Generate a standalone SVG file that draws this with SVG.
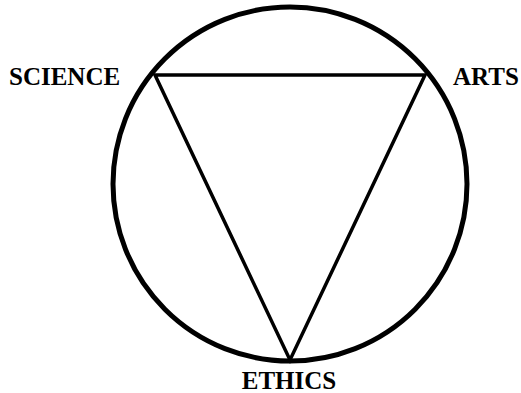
<svg xmlns="http://www.w3.org/2000/svg" width="521" height="393" viewBox="0 0 521 393">
<style>
.lbl{font-family:"Liberation Serif","Times New Roman",serif;font-weight:bold;font-size:25px;fill:#000}
.ln{fill:none;stroke:#000;stroke-linejoin:miter}
</style>
<rect width="521" height="393" fill="#fff"/>
<g id="connectors">
<circle class="ln" cx="290" cy="184" r="177" stroke-width="5"/>
<path class="ln" d="M155,75 L425,75 L290,360 Z" stroke-width="3.5"/>
</g>
<g id="science"><text class="lbl" x="9" y="85">SCIENCE</text></g>
<g id="arts"><text class="lbl" x="453" y="85">ARTS</text></g>
<g id="ethics"><text class="lbl" x="289" y="389" text-anchor="middle">ETHICS</text></g>
</svg>
